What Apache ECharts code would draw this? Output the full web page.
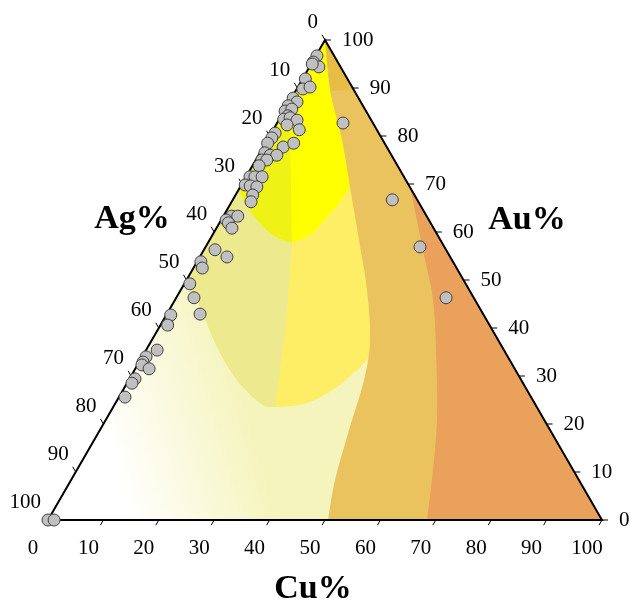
<!DOCTYPE html>
<html>
<head>
<meta charset="utf-8">
<script src="https://cdn.jsdelivr.net/npm/echarts/dist/echarts.min.js"></script>
<style>
html,body{margin:0;padding:0;background:#fff;}
#chart{width:631px;height:603px;}
</style>
</head>
<body>
<div id="chart"></div>
<script>
// Compositions are written as [Cu%, Au%]; Ag% is the remainder to 100.
const samples = [
  [0.2,96.7],[0.2,95.4],[1.7,94.4],[0.2,95.0],[0.5,91.9],[1.1,89.8],[2.2,90.2],
  [0.3,87.9],[1.4,87.1],[0.2,86.3],[0.2,85.2],[1.2,85.6],[1.2,84.2],[0.8,83.5],
  [1.8,83.8],[3.3,83.3],[2.0,82.3],[4.7,81.3],[0.7,80.6],[0.6,79.6],[0.4,78.5],
  [3.6,77.7],[5.1,78.5],[0.9,76.5],[2.1,76.0],[3.3,76.0],[1.1,75.0],[2.0,75.0],
  [1.2,73.8],[0.7,71.5],[1.6,71.5],[2.9,71.5],[0.7,69.8],[1.7,69.6],[3.0,69.4],
  [3.1,67.7],[3.5,66.3],[1.5,63.3],[2.6,63.3],[0.9,62.5],[1.6,61.9],[2.8,60.8],
  [2.0,56.3],[4.9,54.8],[0.7,53.8],[1.6,52.5],[1.0,49.2],[3.2,46.3],[6.0,42.9],
  [0.8,42.7],[1.3,40.6],[2.0,35.4],[0.7,34.0],[0.7,32.9],[0.8,32.3],[2.5,31.5],
  [1.0,29.4],[0.9,28.5],[1.1,25.6],[0.0,0.0],[1.1,0.0],
  [11.9,82.7],[28.8,66.7],[38.7,56.9],[48.7,46.3]
];

const tickValues = [0, 10, 20, 30, 40, 50, 60, 70, 80, 90, 100];

// Contour lines as [Cu%, Au%] knots.
// Upper contour runs from the Ag edge round under the yellow core; knot 5 is where the divider meets it.
const upperContour = [[0,68.75],[3.6,65.0],[7.33,61.88],[10.18,59.79],[13.26,58.33],[15.08,57.92],
  [17.27,58.96],[18.24,60.63],[18.8,63.13],[19.53,65.63],[19.82,69.38],[20.24,73.96]];
// Lower contour, same direction; knot 5 is its lowest point, where the divider ends.
const lowerContour = [[0,50],[5.25,44.38],[12.49,36.04],[19.53,29.17],[26.08,24.38],[29.2,23.54],
  [34.56,24.38],[38.3,27.71],[40.9,33.33],[41.56,38.54]];
const divider = [[3.06,81.25],[15.08,57.92],[22.65,40.63],[29.2,23.54]];
const tanEdge = [[0,100],[6.11,89.58],[13.48,79.17],[19.82,69.38],[26.97,58.33],[33.62,47.92],
  [39.37,37.5],[42.46,29.17],[44.96,18.75],[47.64,8.33],[50.54,0]];
const orangeEdge = [[30.65,69.38],[39.57,56.25],[46.58,45.83],[52.33,35.42],[59.49,21.46],
  [64.28,10.42],[68.41,0]];
const goldEdge = [[0,100],[6.4,89.3],[10.2,89.8]];
const triangle = [[0,0],[100,0],[0,100]];

// Ternary [Cu, Au] -> plane [x, y] of an equilateral layout
function toXY(p) { return [p[0] + p[1] / 2, p[1]]; }

// Catmull-Rom pass through pixel knots; knot k lands at index k*n
function spline(pts, n) {
  const out = [];
  for (let i = 0; i < pts.length - 1; i++) {
    const p0 = pts[Math.max(i - 1, 0)], p1 = pts[i], p2 = pts[i + 1], p3 = pts[Math.min(i + 2, pts.length - 1)];
    for (let s = 0; s < n; s++) {
      const t = s / n, t2 = t * t, t3 = t2 * t;
      const f = (a, b, c, d) => 0.5 * ((2 * b) + (-a + c) * t + (2 * a - 5 * b + 4 * c - d) * t2 + (-a + 3 * b - 3 * c + d) * t3);
      out.push([f(p0[0], p1[0], p2[0], p3[0]), f(p0[1], p1[1], p2[1], p3[1])]);
    }
  }
  out.push(pts[pts.length - 1]);
  return out;
}

const N = 8;
const bandColors = {
  whole: new echarts.graphic.LinearGradient(0.148, 1, 0.40, 0.917,
    [{offset: 0, color: '#FFFFFF'}, {offset: 1, color: '#F5F4BC'}]),
  lightYellow: '#FEEE66',
  khaki: '#EDE98F',
  yellow: '#FFFF00',
  lime: '#EEF215',
  tan: '#EBC35E',
  gold: '#E8BD45',
  orange: '#E9A15C'
};
const bandOrder = ['whole', 'lightYellow', 'khaki', 'yellow', 'lime', 'tan', 'gold', 'orange'];

function buildBands(api) {
  const px = arr => arr.map(p => api.coord(toXY(p)));
  const up = spline(px(upperContour), N);
  const low = spline(px(lowerContour), N);
  const upLeft = up.slice(0, 5 * N + 1);
  const lowLeft = low.slice(0, 5 * N + 1);
  const div = px(divider);
  const rev = a => a.slice().reverse();
  return {
    whole: px(triangle),
    lightYellow: up.concat(rev(low)),
    khaki: upLeft.concat(div.slice(2), rev(lowLeft)),
    yellow: px([[0,100],[12,88]]).concat(rev(up)),
    lime: px([[0,81.25]]).concat(div.slice(0, 2), rev(upLeft)),
    tan: spline(px(tanEdge), N).concat(px([[100,0]])),
    gold: px(goldEdge),
    orange: spline(px(orangeEdge), N).concat(px([[100,0]]))
  };
}

const axisDefs = [
  {point: v => [v, 0], dir: [-0.5, 0.866], lab: [-15, 28], align: 'center'},      // Cu, bottom
  {point: v => [100 - v, v], dir: [1, 0], lab: [17, 0], align: 'left'},           // Au, right
  {point: v => [0, 100 - v], dir: [-0.5, -0.866], lab: [-7, -18], align: 'right'} // Ag, left
];

const tickData = [];
axisDefs.forEach((a, ai) => tickValues.forEach(v => tickData.push([ai, v])));

const serif = '"Liberation Serif", "Times New Roman", serif';
const titleStyle = (text) => ({text: text, font: 'bold 34px ' + serif, fill: '#000',
  align: 'center', verticalAlign: 'middle', textAlign: 'center', textVerticalAlign: 'middle'});

const chart = echarts.init(document.getElementById('chart'));

const option = {
  animation: false,
  grid: {left: 48, right: 29, top: 40, bottom: 83},
  xAxis: {type: 'value', min: 0, max: 100, show: false},
  yAxis: {type: 'value', min: 0, max: 100, show: false},
  graphic: [
    {type: 'text', x: 132, y: 219, style: titleStyle('Ag%')},
    {type: 'text', x: 527, y: 220, style: titleStyle('Au%')},
    {type: 'text', x: 313, y: 589, style: titleStyle('Cu%')}
  ],
  series: [
    {
      type: 'custom',
      z: 1,
      data: bandOrder.map((b, i) => [50, 50, i]),
      renderItem: function (params, api) {
        const key = bandOrder[params.dataIndex];
        const shapes = buildBands(api);
        return {
          type: 'polygon',
          z2: params.dataIndex,
          shape: {points: shapes[key]},
          style: {fill: bandColors[key], stroke: null}
        };
      },
      silent: true
    },
    {
      type: 'custom',
      z: 3,
      data: [[50, 50]],
      renderItem: function (params, api) {
        return {
          type: 'polygon',
          shape: {points: triangle.map(p => api.coord(toXY(p)))},
          style: {fill: null, stroke: '#000', lineWidth: 2, lineJoin: 'miter'}
        };
      },
      silent: true
    },
    {
      type: 'custom',
      z: 3,
      data: tickData,
      renderItem: function (params, api) {
        const a = axisDefs[api.value(0)], v = api.value(1);
        const p = api.coord(toXY(a.point(v)));
        const len = 6;
        return {
          type: 'group',
          children: [
            {type: 'line', shape: {x1: p[0], y1: p[1], x2: p[0] + a.dir[0] * len, y2: p[1] + a.dir[1] * len},
             style: {stroke: '#000', lineWidth: 1}},
            {type: 'text', x: p[0] + a.lab[0], y: p[1] + a.lab[1],
             style: {text: String(v), font: '21px ' + serif, fill: '#000',
               align: a.align, verticalAlign: 'middle'}}
          ]
        };
      },
      silent: true
    },
    {
      type: 'scatter',
      z: 5,
      symbol: 'circle',
      symbolSize: 12,
      data: samples.map(toXY),
      itemStyle: {color: '#C0C0C0', borderColor: '#404040', borderWidth: 1, opacity: 1},
      silent: true
    }
  ]
};

chart.setOption(option);
</script>
</body>
</html>
